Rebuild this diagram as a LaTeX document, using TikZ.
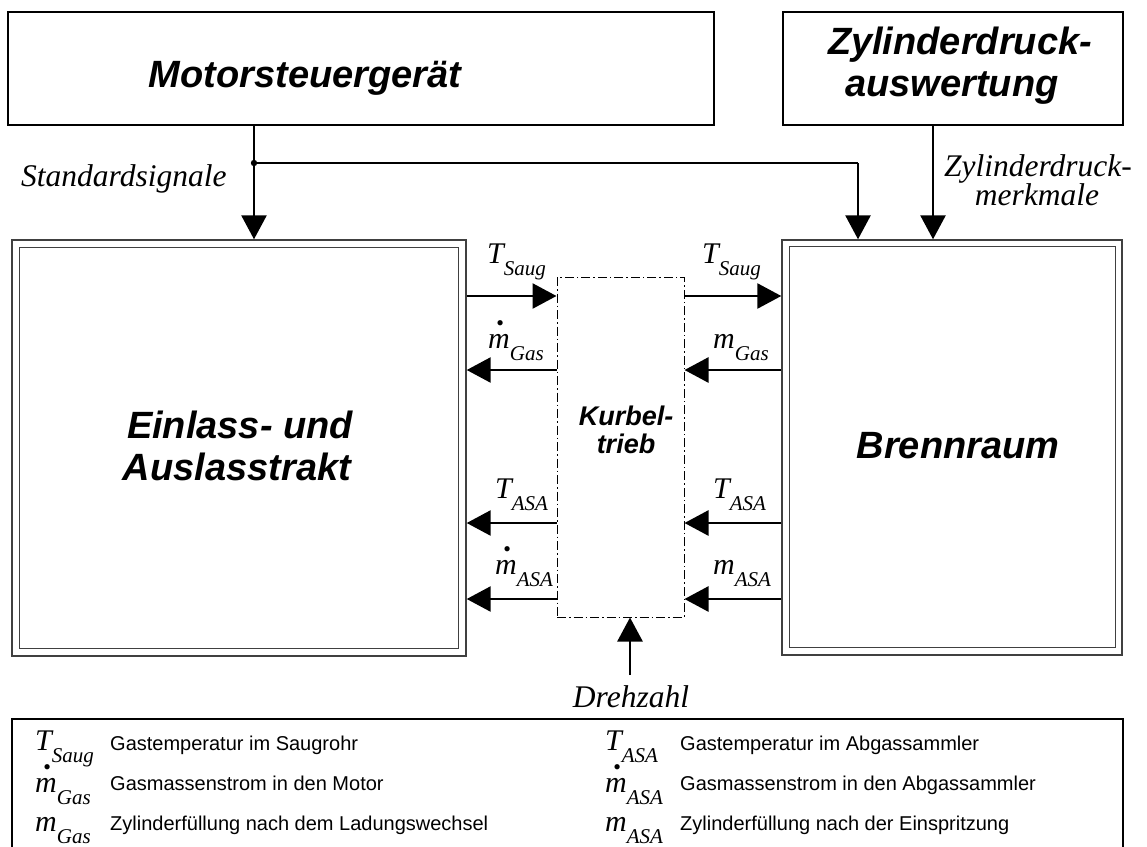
\documentclass[tikz,border=0pt]{standalone}
\usepackage{fontspec}
\setmainfont{Liberation Serif}
\newfontfamily\arialf{Liberation Sans}
\usetikzlibrary{arrows.meta,calc}

% symbol with lowered subscript, and m with a dot above
\newcommand\qsub[2]{#1\raisebox{-12.5pt}{\fontsize{21}{21}\selectfont #2}}
\newcommand\mdot{\makebox[0pt][l]{\hspace{8pt}\raisebox{17.5pt}{\fontsize{22}{22}\selectfont\textbullet}}m}

\begin{document}
\begin{tikzpicture}[x=1pt,y=-1pt,
  blk/.style={draw=black, line width=1.2pt, inner sep=0pt, rectangle},
  dblk/.style={draw=black!75, line width=1.4pt, inner sep=0pt, rectangle},
  title/.style={font=\arialf\bfseries\itshape\fontsize{38}{40}\selectfont, anchor=base, inner sep=0pt},
  small title/.style={font=\arialf\bfseries\itshape\fontsize{27}{30}\selectfont, anchor=base, inner sep=0pt},
  sig/.style={line width=2.6pt, -{Triangle[length=24pt,width=25pt]}},
  lbl/.style={font=\fontsize{30}{30}\selectfont\itshape, anchor=base west, inner sep=0pt},
  itlab/.style={font=\fontsize{31.5}{31.5}\selectfont\itshape, anchor=base, inner sep=0pt, align=center},
  leg/.style={font=\arialf\fontsize{20}{20}\selectfont, anchor=base west, inner sep=0pt},
]
\useasboundingbox (0,0) rectangle (1147,846);
\fill[white] (0,0) rectangle (1147,846);

% blocks
\node[blk, minimum width=706pt, minimum height=113pt] (mot) at (361,68.5) {};
\node[blk, minimum width=340pt, minimum height=113pt] (zyl) at (953,68.5) {};
\node[dblk, minimum width=454pt, minimum height=416pt] (ein) at (239,448) {};
\node[dblk, minimum width=340pt, minimum height=415pt] (bren) at (952,447.5) {};
\draw[dblk] ([shift={(8,8)}]ein.north west) rectangle ([shift={(-8,-8)}]ein.south east);
\draw[dblk] ([shift={(8,7)}]bren.north west) rectangle ([shift={(-7,-8)}]bren.south east);
\node[draw=black, line width=1pt, dash pattern=on 9pt off 3pt on 1.5pt off 3pt,
      inner sep=0pt, minimum width=127pt, minimum height=340pt] (kurb) at (620.5,447) {};

% block titles
\node[title] (motT) at (305,87) {Motorsteuergerät};
\node[title] (zylT1) at (960,54) {Zylinderdruck-};
\node[title] (zylT2) at (952,96) {auswertung};
\node[title] (einT1) at (240,438) {Einlass- und};
\node[title] (einT2) at (237,480) {Auslasstrakt};
\node[title] (brenT) at (958,458) {Brennraum};
\node[small title] (kurbT1) at (626,425) {Kurbel-};
\node[small title] (kurbT2) at (626,453) {trieb};

% signal lines from the top blocks
\coordinate (jn) at (254,163);
\coordinate (zn) at (858,163);
\draw[sig] (mot.south -| jn) -- (ein.north -| jn);
\draw[line width=2.6pt] (jn) -- (zn);
\draw[sig] (zn) -- (bren.north -| zn);
\fill (jn) circle (3.2pt);
\coordinate (zx) at (933,0);
\draw[sig] (zyl.south -| zx) -- (bren.north -| zx);
\node[itlab, anchor=base west] (std) at (21,186) {Standardsignale};
\node[itlab] (zm1) at (1038,176) {Zylinderdruck-};
\node[itlab] (zm2) at (1037,205) {merkmale};

% signals across the crank drive
\coordinate (r1) at (0,296);
\coordinate (r2) at (0,370);
\coordinate (r3) at (0,523);
\coordinate (r4) at (0,599);
\draw[sig] (ein.east |- r1) -- (kurb.west |- r1);
\draw[sig] (kurb.east |- r1) -- (bren.west |- r1);
\draw[sig] (kurb.west |- r2) -- (ein.east |- r2);
\draw[sig] (bren.west |- r2) -- (kurb.east |- r2);
\draw[sig] (kurb.west |- r3) -- (ein.east |- r3);
\draw[sig] (bren.west |- r3) -- (kurb.east |- r3);
\draw[sig] (kurb.west |- r4) -- (ein.east |- r4);
\draw[sig] (bren.west |- r4) -- (kurb.east |- r4);

\node[lbl] (l1) at (487,263) {\qsub{T}{Saug}};
\node[lbl] (l2) at (702,263) {\qsub{T}{Saug}};
\node[lbl] (l3) at (488,348) {\qsub{\mdot}{Gas}};
\node[lbl] (l4) at (713,348) {\qsub{m}{Gas}};
\node[lbl] (l5) at (495,498) {\qsub{T}{ASA}};
\node[lbl] (l6) at (713,498) {\qsub{T}{ASA}};
\node[lbl] (l7) at (495,574) {\qsub{\mdot}{ASA}};
\node[lbl] (l8) at (713,574) {\qsub{m}{ASA}};

% engine speed input
\coordinate (dz) at (630,675);
\draw[sig] (dz) -- (kurb.south -| dz);
\node[itlab] (dzT) at (631,707) {Drehzahl};

% legend
\draw[line width=1.2pt] (12,850) -- (12,719) -- (1123,719) -- (1123,850);
\node[lbl] (s1) at (35,750) {\qsub{T}{Saug}};
\node[lbl] (s2) at (35,792) {\qsub{\mdot}{Gas}};
\node[lbl] (s3) at (35,831) {\qsub{m}{Gas}};
\node[leg] (t1) at (110,750) {Gastemperatur im Saugrohr};
\node[leg] (t2) at (110,790) {Gasmassenstrom in den Motor};
\node[leg] (t3) at (110,830) {Zylinderfüllung nach dem Ladungswechsel};
\node[lbl] (s4) at (605,750) {\qsub{T}{ASA}};
\node[lbl] (s5) at (605,792) {\qsub{\mdot}{ASA}};
\node[lbl] (s6) at (605,831) {\qsub{m}{ASA}};
\node[leg] (t4) at (680,750) {Gastemperatur im Abgassammler};
\node[leg] (t5) at (680,790) {Gasmassenstrom in den Abgassammler};
\node[leg] (t6) at (680,830) {Zylinderfüllung nach der Einspritzung};
\end{tikzpicture}
\end{document}
